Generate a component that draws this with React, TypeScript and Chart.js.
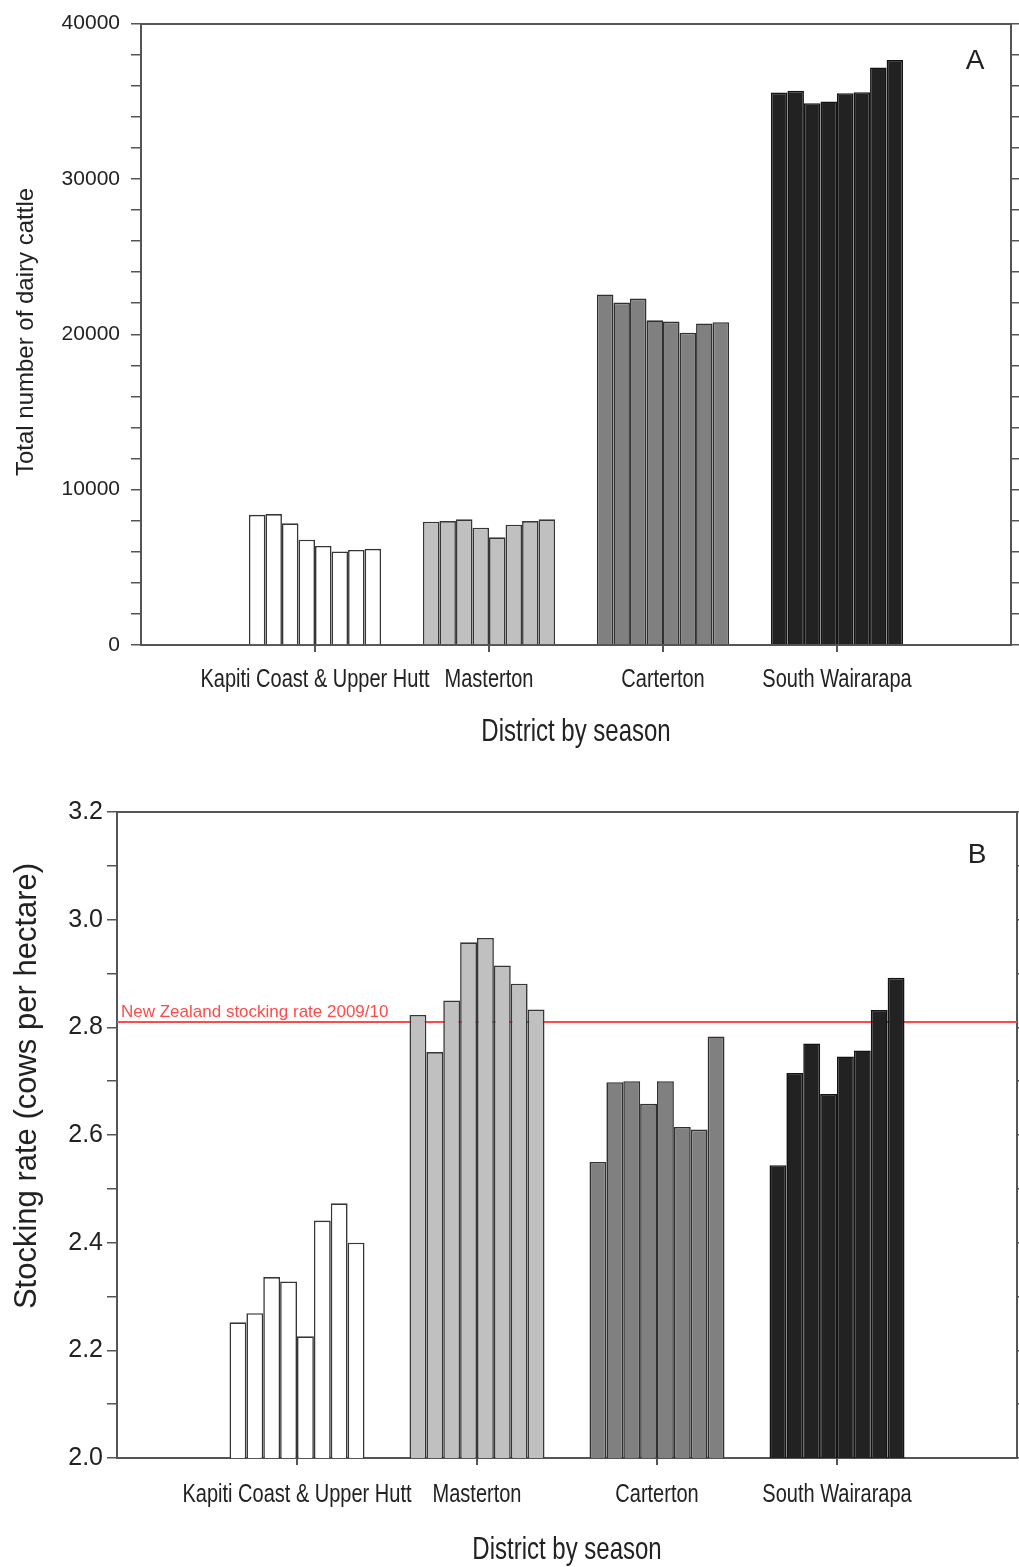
import React, { useEffect, useRef } from 'react';
import { Chart, registerables } from 'chart.js';

Chart.register(...registerables);

// ---------- data ----------
const districts = ['Kapiti Coast & Upper Hutt', 'Masterton', 'Carterton', 'South Wairarapa'];
const seasons = ['Season 1', 'Season 2', 'Season 3', 'Season 4', 'Season 5', 'Season 6', 'Season 7', 'Season 8'];

// Panel A: total number of dairy cattle (one value per season)
const cattleKapiti = [8380, 8430, 7830, 6780, 6380, 6020, 6120, 6190];
const cattleMasterton = [7940, 7980, 8090, 7550, 6930, 7740, 7980, 8090];
const cattleCarterton = [22570, 22040, 22300, 20900, 20820, 20100, 20700, 20780];
const cattleSouthWairarapa = [35560, 35670, 34880, 34990, 35520, 35580, 37180, 37650];

// Panel B: stocking rate (cows per hectare)
const rateKapiti = [2.252, 2.269, 2.336, 2.328, 2.226, 2.441, 2.473, 2.4];
const rateMasterton = [2.823, 2.754, 2.85, 2.958, 2.966, 2.915, 2.881, 2.833];
const rateCarterton = [2.55, 2.698, 2.7, 2.658, 2.7, 2.615, 2.61, 2.783];
const rateSouthWairarapa = [2.544, 2.715, 2.77, 2.676, 2.746, 2.757, 2.832, 2.892];

const nzStockingRate = 2.81;
const nzStockingLabel = 'New Zealand stocking rate 2009/10';
const xAxisTitle = 'District by season';

// axis ranges / tick labels
const cattleRange = { min: 0, max: 40000, step: 2000, labelEvery: 10000 };
const rateRange = { min: 2.0, max: 3.2, step: 0.1, labelEvery: 0.2 };

// ---------- styles ----------
const districtFill = ['#ffffff', '#c0c0c0', '#808080', '#222222'];
const districtEdge = ['#363636', '#363636', '#303030', '#121212'];
const REGULAR = "'Liberation Sans', Arial, sans-serif";
const AXIS = '#555555';
const TEXT = '#222222';
const PAGE_W = 1019;

function seasonDatasets(table: number[][], pct: number) {
  return seasons.map((season, i) => ({
    type: 'bar' as const,
    label: season,
    data: districts.map((_, j) => ({ x: j + 1, y: table[j][i] })),
    backgroundColor: districtFill,
    borderColor: districtEdge,
    borderWidth: 1.6,
    borderSkipped: 'bottom' as const,
    barPercentage: 1,
    categoryPercentage: pct,
    order: 0,
  }));
}

type Geo = {
  canvasH: number;
  left: number;
  right: number;
  top: number;
  bottom: number;
  boxBottom: number;
  yTitleX: number;
  yTitleY: number;
  yTitleSize: number;
  yTickSize: number;
  yTickPad: number;
  xLabelDy: number;
  xTitleDy: number;
  letterDx: number;
  letterDy: number;
};

function stretchedText(ctx: CanvasRenderingContext2D, text: string, x: number, y: number, size: number, sy: number) {
  ctx.save();
  ctx.translate(x, y);
  ctx.scale(1, sy);
  ctx.font = `${size}px ${REGULAR}`;
  ctx.textAlign = 'center';
  ctx.textBaseline = 'middle';
  ctx.fillText(text, 0, 0);
  ctx.restore();
}

function makeConfig(opts: {
  datasets: any[];
  range: { min: number; max: number; step: number; labelEvery: number };
  fmt: (v: number) => string;
  yTitle: string;
  letter: string;
  geo: Geo;
  refLine?: { value: number; label: string };
}) {
  const { range, geo } = opts;
  const isLabelled = (v: number) => {
    const k = Math.round(((v - range.min) / range.labelEvery) * 1000) / 1000;
    return Math.abs(k - Math.round(k)) < 1e-6;
  };
  const datasets: any[] = [...opts.datasets];
  if (opts.refLine) {
    datasets.push({
      type: 'line',
      label: opts.refLine.label,
      data: [
        { x: 0, y: opts.refLine.value },
        { x: districts.length + 1, y: opts.refLine.value },
      ],
      borderColor: '#ff4a4a',
      borderWidth: 2,
      pointRadius: 0,
      order: 5,
    });
  }
  const overlay = {
    id: 'overlay' + opts.letter,
    afterDraw(chart: any) {
      const { ctx, chartArea } = chart;
      const xs = chart.scales.x;
      ctx.save();
      ctx.fillStyle = TEXT;
      // category labels under the x axis, at the scale's tick positions
      districts.forEach((name, i) => {
        stretchedText(ctx, name, xs.getPixelForValue(i + 1), chartArea.bottom + geo.xLabelDy, 20, 1.25);
      });
      // x-axis title
      stretchedText(ctx, xAxisTitle, (chartArea.left + chartArea.right) / 2, chartArea.bottom + geo.xTitleDy, 24, 1.27);
      // panel letter
      ctx.font = `28px ${REGULAR}`;
      ctx.textAlign = 'center';
      ctx.textBaseline = 'middle';
      ctx.fillText(opts.letter, chartArea.right - geo.letterDx, chartArea.top + geo.letterDy);
      // y-axis title
      ctx.save();
      ctx.translate(geo.yTitleX, geo.yTitleY);
      ctx.rotate(-Math.PI / 2);
      ctx.font = `${geo.yTitleSize}px ${REGULAR}`;
      ctx.fillText(opts.yTitle, 0, 0);
      ctx.restore();
      // reference line label
      if (opts.refLine) {
        const y = chart.scales.y.getPixelForValue(opts.refLine.value);
        ctx.fillStyle = '#ff4a4a';
        ctx.font = `17px ${REGULAR}`;
        ctx.textAlign = 'left';
        ctx.textBaseline = 'alphabetic';
        ctx.fillText(opts.refLine.label, chartArea.left + 4, y - 5);
      }
      ctx.restore();
    },
  };
  const yTicks = {
    stepSize: range.step,
    maxTicksLimit: 100,
    autoSkip: false,
    color: TEXT,
    padding: geo.yTickPad,
    font: { family: REGULAR, size: geo.yTickSize },
  };
  return {
    type: 'bar',
    data: { datasets },
    plugins: [overlay],
    options: {
      animation: false,
      responsive: false,
      maintainAspectRatio: false,
      events: [],
      layout: { padding: { left: 0, right: 0, top: geo.top, bottom: geo.canvasH - geo.boxBottom } },
      plugins: { legend: { display: false }, tooltip: { enabled: false } },
      scales: {
        x: {
          type: 'linear',
          position: 'bottom',
          min: 0,
          max: districts.length + 1,
          offset: false,
          afterBuildTicks: (s: any) => {
            s.ticks = districts.map((_, i) => ({ value: i + 1 }));
          },
          afterFit: (s: any) => {
            s.height = geo.boxBottom - geo.bottom;
          },
          ticks: { display: false, autoSkip: false, maxRotation: 0, minRotation: 0 },
          grid: { display: true, drawOnChartArea: false, drawTicks: true, tickLength: 7, color: AXIS, lineWidth: 2, offset: false },
          border: { display: true, color: AXIS, width: 2 },
        },
        x2: {
          type: 'linear',
          position: 'top',
          min: 0,
          max: districts.length + 1,
          afterFit: (s: any) => {
            s.height = 0;
          },
          ticks: { display: false },
          grid: { display: false },
          border: { display: true, color: AXIS, width: 2 },
        },
        y: {
          type: 'linear',
          position: 'left',
          min: range.min,
          max: range.max,
          afterFit: (s: any) => {
            s.width = geo.left;
          },
          ticks: { ...yTicks, callback: (v: number) => (isLabelled(v) ? opts.fmt(v) : '') },
          grid: { display: true, drawOnChartArea: false, drawTicks: true, tickLength: 10, color: AXIS, lineWidth: 1.5 },
          border: { display: true, color: AXIS, width: 2 },
        },
        y2: {
          type: 'linear',
          position: 'right',
          min: range.min,
          max: range.max,
          afterFit: (s: any) => {
            s.width = PAGE_W - geo.right;
          },
          ticks: { ...yTicks, callback: () => '' },
          grid: { display: true, drawOnChartArea: false, drawTicks: true, tickLength: 10, color: AXIS, lineWidth: 1.5 },
          border: { display: true, color: AXIS, width: 2 },
        },
      },
    },
  };
}

function ChartCanvas({ config, top, height }: { config: any; top: number; height: number }) {
  const ref = useRef<HTMLCanvasElement | null>(null);
  useEffect(() => {
    if (!ref.current) return;
    const chart = new Chart(ref.current, config);
    return () => chart.destroy();
  }, [config]);
  return (
    <canvas
      ref={ref}
      width={PAGE_W}
      height={height}
      style={{ position: 'absolute', left: 0, top, width: PAGE_W, height, display: 'block' }}
    />
  );
}

const geoA: Geo = {
  canvasH: 770, left: 141, right: 1011, top: 20, bottom: 645, boxBottom: 748,
  yTitleX: 26, yTitleY: 332, yTitleSize: 24, yTickSize: 21, yTickPad: 11,
  xLabelDy: 35, xTitleDy: 88, letterDx: 36, letterDy: 38,
};
const geoB: Geo = {
  canvasH: 797, left: 117, right: 1017, top: 42, bottom: 688, boxBottom: 796,
  yTitleX: 27, yTitleY: 316, yTitleSize: 31, yTickSize: 25, yTickPad: 4,
  xLabelDy: 37, xTitleDy: 93, letterDx: 40, letterDy: 43,
};

const configA = makeConfig({
  datasets: seasonDatasets([cattleKapiti, cattleMasterton, cattleCarterton, cattleSouthWairarapa], 0.76),
  range: cattleRange,
  fmt: (v) => String(Math.round(v)),
  yTitle: 'Total number of dairy cattle',
  letter: 'A',
  geo: geoA,
});

const configB = makeConfig({
  datasets: seasonDatasets([rateKapiti, rateMasterton, rateCarterton, rateSouthWairarapa], 0.75),
  range: rateRange,
  fmt: (v) => v.toFixed(1),
  yTitle: 'Stocking rate (cows per hectare)',
  letter: 'B',
  geo: geoB,
  refLine: { value: nzStockingRate, label: nzStockingLabel },
});

export default function App() {
  return (
    <div style={{ position: 'absolute', left: 0, top: 0, width: PAGE_W, height: 1567, background: '#ffffff', overflow: 'hidden' }}>
      <ChartCanvas config={configA} top={0} height={geoA.canvasH} />
      <ChartCanvas config={configB} top={geoA.canvasH} height={geoB.canvasH} />
    </div>
  );
}
